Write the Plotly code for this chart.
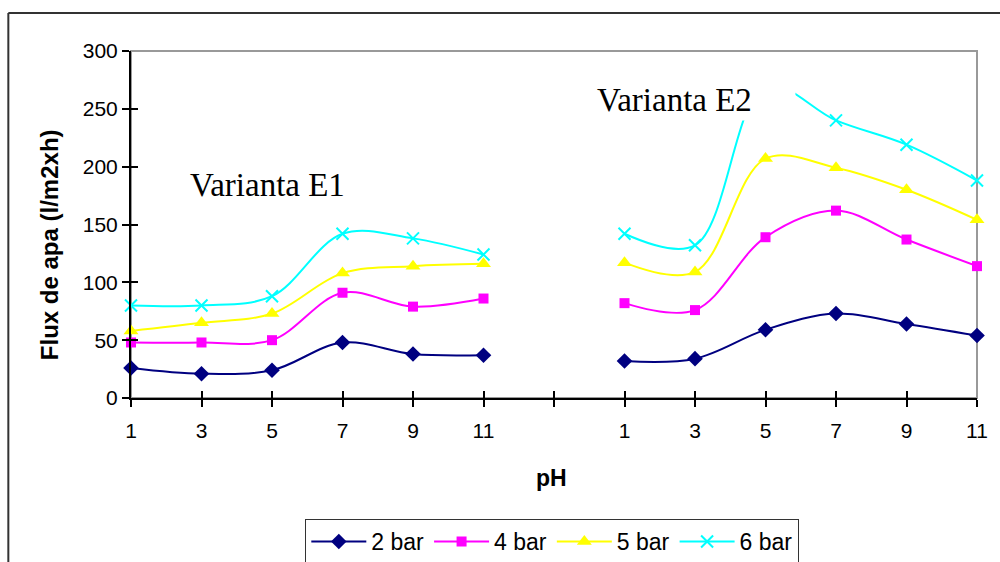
import plotly.graph_objects as go

# pH categories for the two variants, with an empty slot separating them
ph_labels = ["1", "3", "5", "7", "9", "11", "", "1", "3", "5", "7", "9", "11"]
positions = list(range(len(ph_labels)))

# water flux (l/m2xh) per transmembrane pressure
flux_2bar = [26, 21, 24, 48, 38, 37, None, 32, 34, 59, 73, 64, 54]
flux_4bar = [48, 48, 50, 91, 79, 86, None, 82, 76, 139, 162, 137, 114]
flux_5bar = [58, 65, 73, 108, 114, 116, None, 117, 109, 207, 199, 180, 154]
flux_6bar = [80, 80, 88, 142, 138, 124, None, 142, 132, 270, 240, 219, 188]

series = [
    ("2 bar", flux_2bar, "#000080", dict(symbol="diamond", size=12)),
    ("4 bar", flux_4bar, "#FF00FF", dict(symbol="square", size=10)),
    ("5 bar", flux_5bar, "#FFFF00", dict(symbol="triangle-up", size=13)),
    ("6 bar", flux_6bar, "#00FFFF", dict(symbol="x-thin", size=12,
                                         line=dict(width=2, color="#00FFFF"))),
]

fig = go.Figure()
for name, vals, color, marker in series:
    fig.add_trace(go.Scatter(
        x=positions, y=vals, name=name, mode="lines+markers",
        line=dict(color=color, width=2, shape="spline", smoothing=1),
        marker=dict(color=color, **marker),
        connectgaps=False, cliponaxis=False,
    ))

# helper trace for the overlaid axes that give the crossing tick marks
fig.add_trace(go.Scatter(x=[None], y=[None], xaxis="x2", yaxis="y2",
                         showlegend=False, hoverinfo="skip"))

FONT = "Liberation Sans, Arial, sans-serif"
SERIF = "Liberation Serif, Times New Roman, serif"

fig.update_layout(
    width=1000, height=562,
    margin=dict(l=131, r=21, t=51, b=164),
    paper_bgcolor="white", plot_bgcolor="white",
    font=dict(family=FONT, size=21, color="black"),
    xaxis=dict(
        range=[0, 12], tickvals=positions, ticktext=ph_labels,
        showgrid=False, zeroline=False,
        showline=True, linecolor="black", linewidth=2,
        ticks="outside", ticklen=7, tickcolor="black", tickwidth=1.5,
        tickfont=dict(size=21), ticklabelstandoff=6,
    ),
    yaxis=dict(
        range=[0, 300], dtick=50, showgrid=False, zeroline=False,
        showline=True, linecolor="black", linewidth=2,
        ticks="outside", ticklen=7, tickcolor="black", tickwidth=1.5,
        tickfont=dict(size=21),
    ),
    xaxis2=dict(
        overlaying="x", anchor="y2", range=[0, 12], tickvals=positions,
        showticklabels=False, showgrid=False, zeroline=False, showline=False,
        ticks="inside", ticklen=7, tickcolor="black", tickwidth=1.5,
    ),
    yaxis2=dict(
        overlaying="y", anchor="x2", range=[0, 300], dtick=50,
        showticklabels=False, showgrid=False, zeroline=False, showline=False,
        ticks="inside", ticklen=7, tickcolor="black", tickwidth=1.5,
    ),
    legend=dict(
        orientation="h", x=0.498, xanchor="center",
        yref="container", y=0.0765, yanchor="top",
        bordercolor="#333333", borderwidth=1, bgcolor="white",
        font=dict(size=23), itemwidth=55, tracegroupgap=0,
    ),
    showlegend=True,
)

shapes = [
    # plot area frame (grey)
    dict(type="rect", xref="paper", yref="paper", x0=0, x1=1, y0=0, y1=1,
         line=dict(color="#999999", width=2), layer="below"),
    # outer chart frame, left and top edges
    dict(type="line", xref="paper", yref="paper", x0=-0.145, x1=-0.145,
         y0=-0.6, y1=1.1095, line=dict(color="#333333", width=2)),
    dict(type="line", xref="paper", yref="paper", x0=-0.145, x1=1.1,
         y0=1.1095, y1=1.1095, line=dict(color="#333333", width=2)),
    # white text box behind the second variant label
    dict(type="rect", xref="paper", yref="paper", x0=0.539, x1=0.7854,
         y0=0.8, y1=0.968, fillcolor="white", line=dict(width=0),
         layer="above"),
]
fig.update_layout(shapes=shapes)

fig.add_annotation(text="Varianta E1", xref="paper", yref="paper",
                   x=0.1616, y=0.6138, xanchor="center", yanchor="middle",
                   showarrow=False,
                   font=dict(family=SERIF, size=33, color="black"))
fig.add_annotation(text="Varianta E2", xref="paper", yref="paper",
                   x=0.6427, y=0.8588, xanchor="center", yanchor="middle",
                   showarrow=False,
                   font=dict(family=SERIF, size=33, color="black"))
fig.add_annotation(text="<b>Flux de apa (l/m2xh)</b>", xref="paper", yref="paper",
                   x=-0.0955, y=0.441, xanchor="center", yanchor="middle",
                   textangle=-90, showarrow=False,
                   font=dict(family=FONT, size=24, color="black"))
fig.add_annotation(text="<b>pH</b>", xref="paper", yref="paper",
                   x=0.4976, y=-0.2305, xanchor="center", yanchor="middle",
                   showarrow=False,
                   font=dict(family=FONT, size=23, color="black"))

fig.write_html("out.html")
